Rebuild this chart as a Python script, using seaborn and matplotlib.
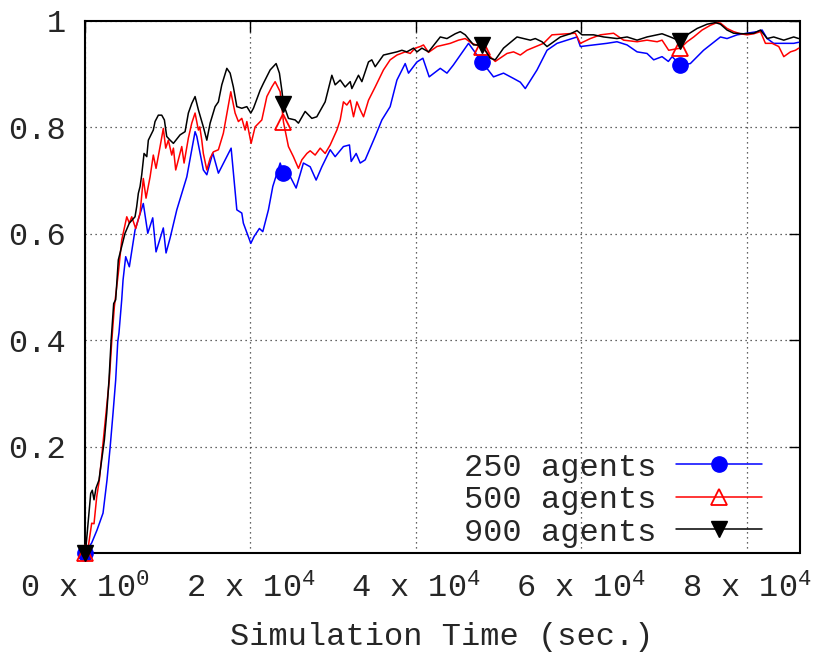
import numpy as np
import pandas as pd
import matplotlib
matplotlib.use("Agg")
import matplotlib.pyplot as plt
from matplotlib.lines import Line2D
import seaborn as sns

# ---------------- data ----------------
t_250 = [0, 810, 1450, 2180, 2660, 3030, 3390, 3710, 3960, 4110, 4440, 4600, 4920, 5360,
         6050, 7050, 7590, 8190, 8590, 9470, 9800, 10290, 11100, 12310, 13310, 13520,
         14310, 14730, 15450, 16130, 17670, 18360, 18960, 19150, 20050, 20450, 21090,
         21500, 22180, 22710, 23600, 24000, 24600, 25530, 26410, 27230, 27950, 28640,
         29650, 30250, 31250, 31980, 32190, 32790, 33280, 33880, 35090, 35900, 36900,
         37720, 38720, 39120, 40140, 40860, 41620, 42960, 43770, 44530, 46380, 48000,
         49400, 50610, 51820, 52640, 53240, 54660, 55870, 57080, 59500, 59900, 61500,
         63100, 64330, 65550, 66760, 67960, 68770, 69780, 70540, 71000, 72000, 73200,
         74800, 76840, 77640, 78860, 80060, 81270, 81880, 82490, 83280, 84500, 85700, 86300]
v_250 = [0.0, 0.019, 0.043, 0.075, 0.137, 0.197, 0.263, 0.325, 0.397, 0.414, 0.476, 0.513,
         0.557, 0.538, 0.607, 0.657, 0.601, 0.630, 0.566, 0.611, 0.564, 0.592, 0.645,
         0.707, 0.792, 0.783, 0.720, 0.711, 0.752, 0.714, 0.761, 0.645, 0.639, 0.620,
         0.582, 0.595, 0.610, 0.604, 0.645, 0.689, 0.733, 0.714, 0.714, 0.686, 0.733,
         0.726, 0.701, 0.726, 0.758, 0.745, 0.764, 0.767, 0.736, 0.751, 0.733, 0.739,
         0.783, 0.814, 0.839, 0.889, 0.920, 0.902, 0.923, 0.930, 0.895, 0.911, 0.902,
         0.917, 0.958, 0.923, 0.895, 0.902, 0.892, 0.885, 0.873, 0.908, 0.945, 0.958,
         0.970, 0.952, 0.955, 0.958, 0.961, 0.955, 0.942, 0.939, 0.927, 0.933, 0.924,
         0.933, 0.917, 0.920, 0.945, 0.970, 0.967, 0.974, 0.977, 0.980, 0.983, 0.967,
         0.958, 0.958, 0.958, 0.960]

t_500 = [0, 400, 810, 1090, 1420, 1730, 2140, 2540, 2940, 3230, 3550, 4030, 4440, 5050,
         5360, 5650, 6130, 6660, 7050, 7380, 7870, 8260, 8590, 9080, 9470, 9760, 10080,
         10490, 10690, 10970, 11700, 11980, 12500, 12910, 13310, 13710, 13880, 14120,
         14310, 14730, 15130, 15520, 16130, 16730, 17630, 18150, 18550, 18960, 19360,
         19570, 20090, 20570, 21380, 21990, 22590, 22990, 23600, 24000, 24600, 25200,
         25810, 26220, 26830, 27230, 27830, 28440, 29040, 29650, 30460, 30860, 31250,
         31660, 32070, 32470, 32880, 33280, 33680, 34280, 35090, 36090, 36900, 37720,
         38720, 39330, 39930, 40540, 40930, 41540, 42550, 44170, 45170, 45980, 46790,
         48000, 49000, 49610, 51030, 51820, 52640, 53440, 55450, 56470, 58290, 59290,
         59900, 61110, 62320, 63920, 65130, 66760, 67960, 69180, 69780, 70580, 72000,
         72810, 73610, 74620, 75630, 76430, 76840, 77640, 78440, 79260, 80060, 80870,
         81680, 82280, 83090, 83890, 84500, 85310, 85910, 86310]
v_500 = [0.0, 0.012, 0.056, 0.055, 0.106, 0.137, 0.200, 0.263, 0.325, 0.397, 0.463, 0.526,
         0.588, 0.632, 0.620, 0.632, 0.610, 0.639, 0.704, 0.667, 0.707, 0.748, 0.723,
         0.764, 0.798, 0.761, 0.776, 0.748, 0.761, 0.720, 0.764, 0.733, 0.780, 0.808,
         0.827, 0.795, 0.801, 0.776, 0.751, 0.720, 0.742, 0.754, 0.758, 0.789, 0.867,
         0.827, 0.811, 0.817, 0.795, 0.811, 0.770, 0.801, 0.814, 0.858, 0.876, 0.886,
         0.867, 0.810, 0.764, 0.745, 0.723, 0.739, 0.751, 0.756, 0.748, 0.761, 0.751,
         0.767, 0.795, 0.814, 0.848, 0.842, 0.851, 0.820, 0.848, 0.833, 0.820, 0.851,
         0.876, 0.908, 0.927, 0.936, 0.942, 0.939, 0.949, 0.952, 0.955, 0.941, 0.952,
         0.958, 0.964, 0.967, 0.958, 0.951, 0.933, 0.924, 0.939, 0.942, 0.936, 0.945,
         0.958, 0.974, 0.976, 0.977, 0.958, 0.967, 0.974, 0.977, 0.964, 0.961, 0.964,
         0.961, 0.964, 0.945, 0.949, 0.961, 0.970, 0.983, 0.992, 0.997, 0.996, 0.986,
         0.980, 0.976, 0.974, 0.976, 0.980, 0.958, 0.958, 0.952, 0.933, 0.942, 0.945,
         0.949]

t_900 = [0, 120, 400, 690, 880, 1090, 1330, 1690, 2020, 2340, 2630, 2900, 3150, 3470,
         3710, 4030, 4840, 5360, 6050, 6250, 6450, 6660, 6860, 7140, 7470, 7660, 8260,
         8470, 8870, 9280, 9600, 9880, 10290, 10690, 11500, 12100, 12500, 12910, 13310,
         13710, 14310, 14730, 15130, 15730, 16130, 16540, 17150, 17550, 17940, 18360,
         18960, 19570, 20050, 20370, 21180, 21580, 22390, 23110, 23510, 23800, 24000,
         24600, 25410, 25810, 26620, 27430, 28030, 29040, 29850, 30250, 30860, 31460,
         32070, 32270, 33070, 33480, 34280, 34680, 35090, 36090, 36900, 37720, 38320,
         38910, 39730, 40140, 40740, 41540, 42960, 43770, 44770, 45380, 45980, 46990,
         48000, 49000, 49610, 50610, 52240, 53040, 53850, 54450, 55260, 55870, 57480,
         58690, 59500, 60100, 61500, 62720, 64330, 65550, 66760, 67960, 69780, 70790,
         72000, 72810, 74020, 75230, 76230, 76840, 77640, 78440, 79650, 80870, 81680,
         82490, 83280, 84500, 85700, 86300]
v_900 = [0.0, 0.012, 0.062, 0.112, 0.118, 0.100, 0.122, 0.137, 0.175, 0.212, 0.263, 0.325,
         0.397, 0.469, 0.476, 0.551, 0.601, 0.620, 0.632, 0.651, 0.676, 0.689, 0.711,
         0.751, 0.745, 0.776, 0.795, 0.811, 0.823, 0.823, 0.814, 0.783, 0.776, 0.770,
         0.786, 0.792, 0.827, 0.845, 0.858, 0.833, 0.801, 0.776, 0.808, 0.839, 0.848,
         0.880, 0.911, 0.902, 0.876, 0.839, 0.836, 0.839, 0.827, 0.836, 0.870, 0.883,
         0.908, 0.920, 0.902, 0.870, 0.844, 0.817, 0.814, 0.808, 0.830, 0.817, 0.820,
         0.848, 0.898, 0.880, 0.889, 0.876, 0.886, 0.873, 0.898, 0.886, 0.923, 0.927,
         0.914, 0.936, 0.939, 0.942, 0.945, 0.942, 0.949, 0.942, 0.949, 0.942, 0.970,
         0.967, 0.976, 0.980, 0.974, 0.955, 0.955, 0.930, 0.927, 0.949, 0.970, 0.967,
         0.964, 0.967, 0.961, 0.952, 0.970, 0.976, 0.982, 0.974, 0.974, 0.970, 0.967,
         0.970, 0.964, 0.970, 0.976, 0.970, 0.962, 0.974, 0.986, 0.994, 0.997, 0.994,
         0.983, 0.977, 0.976, 0.977, 0.983, 0.967, 0.970, 0.964, 0.970, 0.967]

series_labels = ["250 agents", "500 agents", "900 agents"]
marker_times = [0, 24000, 48000, 72000]
x_ticks = [0, 20000, 40000, 60000, 80000]
x_tick_labels = ["0 x 10$^{0}$", "2 x 10$^{4}$", "4 x 10$^{4}$", "6 x 10$^{4}$", "8 x 10$^{4}$"]
y_ticks = [0.2, 0.4, 0.6, 0.8, 1.0]
y_tick_labels = ["0.2", "0.4", "0.6", "0.8", "1"]
x_label = "Simulation Time (sec.)"

# ---------------- style ----------------
sns.set_style("white")
plt.rcParams["font.family"] = ["Liberation Mono", "DejaVu Sans Mono"]
plt.rcParams["mathtext.fontset"] = "custom"
plt.rcParams["mathtext.rm"] = "Liberation Mono"
plt.rcParams["mathtext.it"] = "Liberation Mono"
plt.rcParams["mathtext.bf"] = "Liberation Mono"
plt.rcParams["mathtext.default"] = "regular"

FS = 23

fig = plt.figure(figsize=(8.17, 6.54), dpi=100)
ax = fig.add_axes([85 / 817, 101 / 654, 714.5 / 817, 532 / 654])

styles = [
    dict(color="#0000ff", marker="o", mfc="#0000ff", mec="#0000ff", ms=11),
    dict(color="#ff0000", marker="^", mfc="none", mec="#ff0000", ms=11, mew=1.3),
    dict(color="#000000", marker="v", mfc="#000000", mec="#000000", ms=11),
]

handles = []
for t, v, lab, st in zip([t_250, t_500, t_900], [v_250, v_500, v_900], series_labels, styles):
    df = pd.DataFrame({"t": t, "v": v})
    idx = [int(np.where(df["t"].values == m)[0][0]) for m in marker_times]
    sns.lineplot(data=df, x="t", y="v", ax=ax, sort=False, estimator=None,
                 color=st["color"], lw=1.1, marker=st["marker"], markevery=idx,
                 markersize=st["ms"], markerfacecolor=st["mfc"],
                 markeredgecolor=st["mec"], markeredgewidth=st.get("mew", 1.0),
                 zorder=3, clip_on=False)
    handles.append(Line2D([], [], color=st["color"], lw=1.1, marker=st["marker"],
                          markersize=st["ms"], markerfacecolor=st["mfc"],
                          markeredgecolor=st["mec"], markeredgewidth=st.get("mew", 1.0),
                          label=lab))

ax.set_xlim(0, 86400)
ax.set_ylim(0, 1)
ax.set_xticks(x_ticks)
ax.set_xticklabels(x_tick_labels)
ax.set_yticks(y_ticks)
ax.set_yticklabels(y_tick_labels)
ax.set_xlabel(x_label, fontsize=FS, labelpad=12)
ax.set_ylabel("")

ax.tick_params(axis="both", direction="in", length=8, width=1.0, labelsize=FS,
               top=True, right=True, color="black")
ax.tick_params(axis="x", pad=15)
ax.tick_params(axis="y", pad=14)

ax.grid(True, linestyle=(0, (1, 3)), color="#333333", lw=0.9)
for s in ax.spines.values():
    s.set_color("black")
    s.set_linewidth(1.5)
    s.set_visible(True)

leg = ax.legend(handles=handles, loc="lower right", bbox_to_anchor=(0.9475, 0.01),
                frameon=False, fontsize=FS, markerfirst=False, handlelength=2.7,
                handletextpad=0.6, labelspacing=0.08, borderpad=0.0, borderaxespad=0.0,
                numpoints=1)

fig.savefig("out.png", dpi=100)
